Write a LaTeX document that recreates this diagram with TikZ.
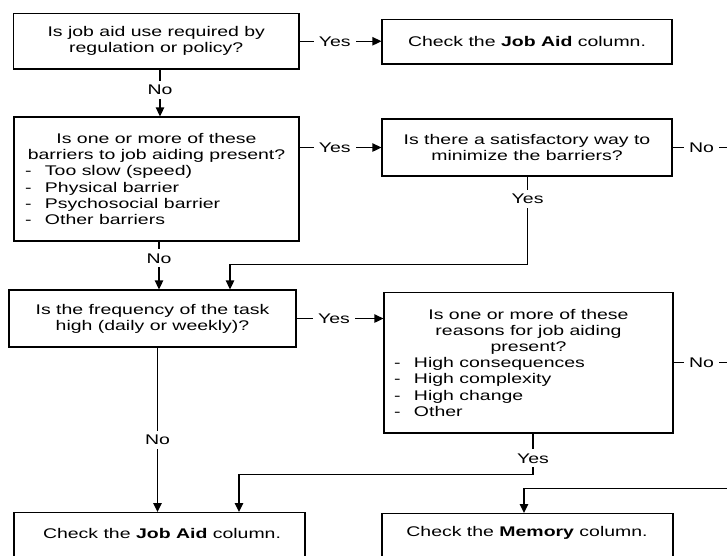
\documentclass[tikz,border=0pt]{standalone}
\usepackage{fontspec}
\setmainfont{Liberation Sans}[FakeStretch=1.39]
\usetikzlibrary{arrows.meta}
% dash-led list line inside a box
\newcommand{\itm}{\makebox[20pt][l]{-}}
\begin{document}
\begin{tikzpicture}[x=1pt,y=-1pt,
  font=\fontsize{14}{16.2}\selectfont,
  box/.style={draw, line width=1.3pt, inner sep=0pt, align=center},
  lbl/.style={fill=white, inner xsep=5pt, inner ysep=4pt},
  link/.style={line width=1.3pt, -{Triangle[length=9pt,width=8.5pt]}},
  plain/.style={line width=1.3pt}]
\useasboundingbox (0,0) rectangle (727,555);
\clip (0,0) rectangle (727,555);

% decision and result boxes
\node[box, minimum width=285.5pt, minimum height=55.5pt] (b1) at (156.25,41.25)
  {Is job aid use required by\\regulation or policy?};
\node[box, minimum width=290pt, minimum height=44.5pt] (b2) at (527,41.75)
  {Check the \textbf{Job Aid} column.};
\node[box, minimum width=285pt, minimum height=124pt] (b3) at (156.5,179)
  {\begin{minipage}{263pt}\centering
   Is one or more of these\\barriers to job aiding present?\par
   \raggedright
   \itm Too slow (speed)\\\itm Physical barrier\\\itm Psychosocial barrier\\\itm Other barriers
   \end{minipage}};
\node[box, minimum width=290pt, minimum height=57pt] (b4) at (527,147.5)
  {Is there a satisfactory way to\\minimize the barriers?};
\node[box, minimum width=287pt, minimum height=57pt] (b5) at (152.5,318.5)
  {Is the frequency of the task\\high (daily or weekly)?};
\node[box, minimum width=289pt, minimum height=140.5pt] (b6) at (528.5,362.75)
  {\begin{minipage}{269pt}\centering
   Is one or more of these\\reasons for job aiding\\present?\par
   \raggedright
   \itm High consequences\\\itm High complexity\\\itm High change\\\itm Other
   \end{minipage}};
\node[box, anchor=north, minimum width=291pt, minimum height=110pt] (b7) at (159.5,512) {};
\node (t7) at (162,533) {Check the \textbf{Job Aid} column.};
\node[box, anchor=north, minimum width=291pt, minimum height=110pt] (b8) at (527.5,513) {};
\node (t8) at (527,533) {Check the \textbf{Memory} column.};

% junction of the two "No" branches on the right
\coordinate (rail) at (745,488.5);

% connectors
\draw[link] (b1.east) -- node[lbl,pos=0.43] {Yes} (b1.east -| b2.west);
\draw[link] ([xshift=3.75pt]b1.south) -- node[lbl,pos=0.44] {No} ([xshift=3.75pt]b1.south |- b3.north);

\draw[link] (b3.east |- b4.west) -- node[lbl,pos=0.43] {Yes} (b4.west);
\draw[link] ([xshift=2.5pt]b3.south) -- node[lbl,pos=0.35] {No} ([xshift=2.5pt]b3.south |- b5.north);
\draw[link] ([xshift=0.6pt]b4.south) -- node[lbl,pos=0.25] {Yes} ++(0,88) -| ([xshift=77.5pt]b5.north);
\draw[plain] (b4.east) -- node[lbl,pos=0.40] {No} (b4.east -| rail) -- (rail);

\draw[link] (b5.east) -- node[lbl,pos=0.43] {Yes} (b5.east -| b6.west);
\draw[link] ([xshift=5pt]b5.south) -- node[lbl,pos=0.56] {No} ([xshift=5pt]b5.south |- b7.north);
\draw[link] ([xshift=4.5pt]b6.south) -- node[lbl,pos=0.6] {Yes} ++(0,41) -| ([xshift=79.5pt]b7.north);
\draw[plain] (b6.east) -- node[lbl,pos=0.39] {No} (b6.east -| rail);

\draw[link] (rail) -| ([xshift=-3.5pt]b8.north);
\end{tikzpicture}
\end{document}
